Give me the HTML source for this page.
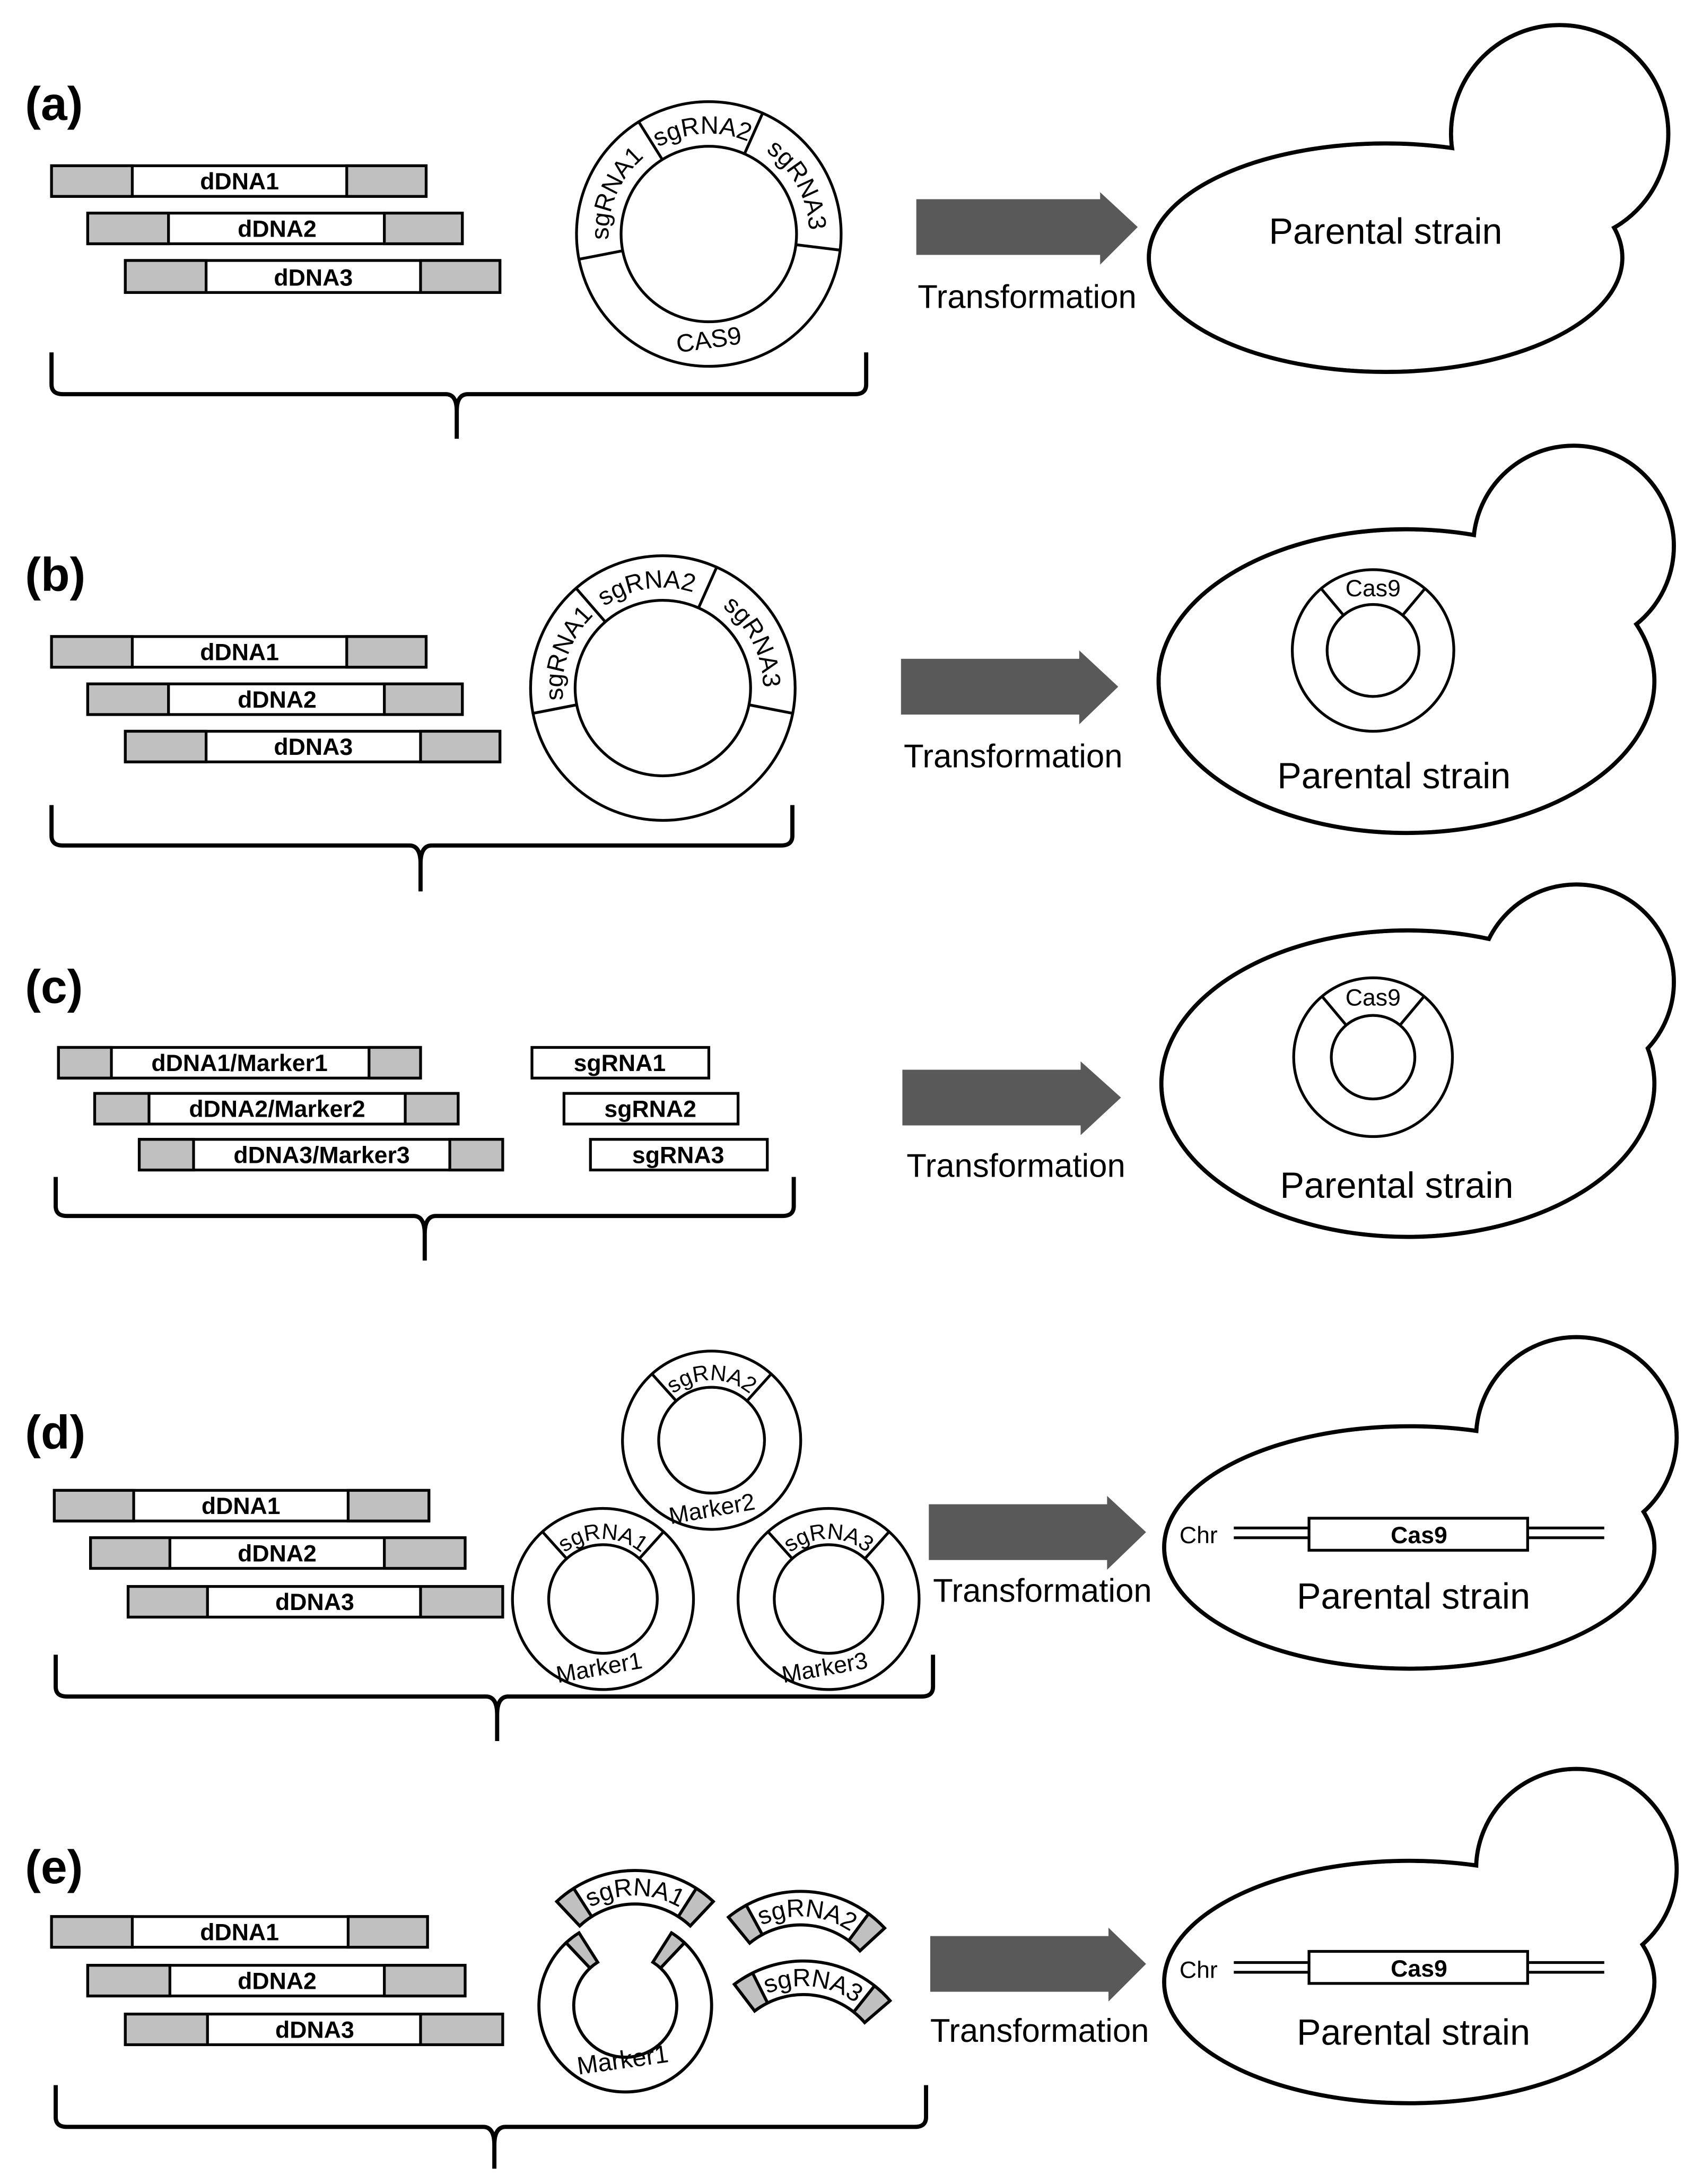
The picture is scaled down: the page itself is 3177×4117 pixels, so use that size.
<!DOCTYPE html>
<html><head><meta charset="utf-8"><style>
html,body{margin:0;padding:0;background:#fff;}
svg{display:block;}
text{font-family:"Liberation Sans",Arial,sans-serif;fill:#000;}
</style></head><body>
<svg width="3177" height="4117" viewBox="0 0 1210 1568" xmlns="http://www.w3.org/2000/svg">
<defs>
<path id="fragtp" d="M-64,0 A64 64 0 0 1 64,0"/>
<g id="frag">
<path d="M-56.2,-59.8 A82 82 0 0 1 56.2,-59.8 L39.7,-42.3 A58 58 0 0 0 -39.7,-42.3 Z" fill="#fff" stroke="#000" stroke-width="2.2"/>
<path d="M-56.2,-59.8 A82 82 0 0 1 -44,-69.2 L-31.1,-49 A58 58 0 0 0 -39.7,-42.3 Z" fill="#c0c0c0" stroke="#000" stroke-width="2.2"/>
<path d="M44,-69.2 A82 82 0 0 1 56.2,-59.8 L39.7,-42.3 A58 58 0 0 0 31.1,-49 Z" fill="#c0c0c0" stroke="#000" stroke-width="2.2"/>
</g>
<path id="pa" d="M509,240 A72 72 0 1 1 509,96 A72 72 0 1 1 509,240"/>
<path id="pb" d="M476,566 A72 72 0 1 1 476,422 A72 72 0 1 1 476,566"/>
<path id="pd2" d="M511,1077 A43 43 0 1 1 511,991 A43 43 0 1 1 511,1077"/>
<path id="pd1" d="M433,1191 A43 43 0 1 1 433,1105 A43 43 0 1 1 433,1191"/>
<path id="pd3" d="M595,1191 A43 43 0 1 1 595,1105 A43 43 0 1 1 595,1191"/>
</defs>

<g stroke="#000" stroke-width="2" fill="none">
<rect x="37" y="119" width="269" height="22" fill="#fff"/><rect x="37" y="119" width="58" height="22" fill="#c0c0c0"/><rect x="249" y="119" width="57" height="22" fill="#c0c0c0"/>
<rect x="63" y="153" width="269" height="22" fill="#fff"/><rect x="63" y="153" width="58" height="22" fill="#c0c0c0"/><rect x="276" y="153" width="56" height="22" fill="#c0c0c0"/>
<rect x="90" y="187" width="269" height="23" fill="#fff"/><rect x="90" y="187" width="58" height="23" fill="#c0c0c0"/><rect x="302" y="187" width="57" height="23" fill="#c0c0c0"/>
<rect x="37" y="457" width="269" height="22" fill="#fff"/><rect x="37" y="457" width="58" height="22" fill="#c0c0c0"/><rect x="249" y="457" width="57" height="22" fill="#c0c0c0"/>
<rect x="63" y="491" width="269" height="22" fill="#fff"/><rect x="63" y="491" width="58" height="22" fill="#c0c0c0"/><rect x="276" y="491" width="56" height="22" fill="#c0c0c0"/>
<rect x="90" y="525" width="269" height="22" fill="#fff"/><rect x="90" y="525" width="58" height="22" fill="#c0c0c0"/><rect x="302" y="525" width="57" height="22" fill="#c0c0c0"/>
<rect x="42" y="752" width="260" height="22" fill="#fff"/><rect x="42" y="752" width="38" height="22" fill="#c0c0c0"/><rect x="265" y="752" width="37" height="22" fill="#c0c0c0"/>
<rect x="68" y="785" width="261" height="22" fill="#fff"/><rect x="68" y="785" width="39" height="22" fill="#c0c0c0"/><rect x="291" y="785" width="38" height="22" fill="#c0c0c0"/>
<rect x="100" y="818" width="261" height="22" fill="#fff"/><rect x="100" y="818" width="39" height="22" fill="#c0c0c0"/><rect x="323" y="818" width="38" height="22" fill="#c0c0c0"/>
<rect x="382" y="752" width="127" height="22" fill="#fff"/>
<rect x="405" y="785" width="125" height="22" fill="#fff"/>
<rect x="424" y="818" width="127" height="22" fill="#fff"/>
<rect x="39" y="1070" width="269" height="22" fill="#fff"/><rect x="39" y="1070" width="57" height="22" fill="#c0c0c0"/><rect x="250" y="1070" width="58" height="22" fill="#c0c0c0"/>
<rect x="65" y="1104" width="269" height="22" fill="#fff"/><rect x="65" y="1104" width="57" height="22" fill="#c0c0c0"/><rect x="276" y="1104" width="58" height="22" fill="#c0c0c0"/>
<rect x="92" y="1139" width="269" height="22" fill="#fff"/><rect x="92" y="1139" width="57" height="22" fill="#c0c0c0"/><rect x="302" y="1139" width="59" height="22" fill="#c0c0c0"/>
<rect x="37" y="1376" width="270" height="22" fill="#fff"/><rect x="37" y="1376" width="58" height="22" fill="#c0c0c0"/><rect x="250" y="1376" width="57" height="22" fill="#c0c0c0"/>
<rect x="63" y="1411" width="271" height="22" fill="#fff"/><rect x="63" y="1411" width="59" height="22" fill="#c0c0c0"/><rect x="276" y="1411" width="58" height="22" fill="#c0c0c0"/>
<rect x="90" y="1446" width="271" height="22" fill="#fff"/><rect x="90" y="1446" width="59" height="22" fill="#c0c0c0"/><rect x="302" y="1446" width="59" height="22" fill="#c0c0c0"/>

<g stroke-width="3">
<path d="M37,253 L37,276 Q37,283 45,283 L320,283 Q328,283 328,295 L328,315 M328,295 Q328,283 336,283 L614,283 Q622,283 622,276 L622,253"/>
<path d="M37,578 L37,600 Q37,607 45,607 L294,607 Q302,607 302,620 L302,640 M302,620 Q302,607 310,607 L561,607 Q569,607 569,600 L569,578"/>
<path d="M40,845 L40,866 Q40,873 48,873 L297,873 Q305,873 305,886 L305,905 M305,886 Q305,873 313,873 L562,873 Q570,873 570,866 L570,845"/>
<path d="M40,1188 L40,1211 Q40,1218 48,1218 L349,1218 Q357,1218 357,1231 L357,1250 M357,1231 Q357,1218 365,1218 L662,1218 Q670,1218 670,1211 L670,1188"/>
<path d="M40,1497 L40,1520 Q40,1527 48,1527 L347,1527 Q355,1527 355,1540 L355,1557 M355,1540 Q355,1527 363,1527 L657,1527 Q665,1527 665,1520 L665,1497"/>
</g>

<circle cx="509" cy="168" r="95" fill="#fff"/><circle cx="509" cy="168" r="63"/>
<g transform="rotate(79 509 168)"><line x1="509" y1="231" x2="509" y2="263"/></g>
<g transform="rotate(148 509 168)"><line x1="509" y1="231" x2="509" y2="263"/></g>
<g transform="rotate(204 509 168)"><line x1="509" y1="231" x2="509" y2="263"/></g>
<g transform="rotate(277 509 168)"><line x1="509" y1="231" x2="509" y2="263"/></g>
<circle cx="476" cy="494" r="95" fill="#fff"/><circle cx="476" cy="494" r="63"/>
<g transform="rotate(79 476 494)"><line x1="476" y1="557" x2="476" y2="589"/></g>
<g transform="rotate(139 476 494)"><line x1="476" y1="557" x2="476" y2="589"/></g>
<g transform="rotate(204 476 494)"><line x1="476" y1="557" x2="476" y2="589"/></g>
<g transform="rotate(281 476 494)"><line x1="476" y1="557" x2="476" y2="589"/></g>
<circle cx="511" cy="1034" r="64" fill="#fff"/><circle cx="511" cy="1034" r="38"/>
<g transform="rotate(138 511 1034)"><line x1="511" y1="1072" x2="511" y2="1098"/></g>
<g transform="rotate(222 511 1034)"><line x1="511" y1="1072" x2="511" y2="1098"/></g>
<circle cx="433" cy="1148" r="65" fill="#fff"/><circle cx="433" cy="1148" r="39"/>
<g transform="rotate(138 433 1148)"><line x1="433" y1="1187" x2="433" y2="1213"/></g>
<g transform="rotate(222 433 1148)"><line x1="433" y1="1187" x2="433" y2="1213"/></g>
<circle cx="595" cy="1148" r="65" fill="#fff"/><circle cx="595" cy="1148" r="39"/>
<g transform="rotate(138 595 1148)"><line x1="595" y1="1187" x2="595" y2="1213"/></g>
<g transform="rotate(222 595 1148)"><line x1="595" y1="1187" x2="595" y2="1213"/></g>
</g>

<path d="M491.5,1394.8 A62 62 0 1 1 406.5,1394.8 L423.7,1413 A37 37 0 1 0 474.3,1413 Z" fill="#fff" stroke="#000" stroke-width="2.2"/>
<path d="M406.5,1394.8 A62 62 0 0 1 415.8,1387.7 L429.2,1408.8 A37 37 0 0 0 423.7,1413 Z" fill="#c0c0c0" stroke="#000" stroke-width="2.2"/>
<path d="M482.2,1387.7 A62 62 0 0 1 491.5,1394.8 L474.3,1413 A37 37 0 0 0 468.8,1408.8 Z" fill="#c0c0c0" stroke="#000" stroke-width="2.2"/>
<g transform="translate(456,1425)"><use href="#frag"/><text font-size="18"><textPath href="#fragtp" startOffset="50%" text-anchor="middle">sgRNA1</textPath></text></g>
<g transform="translate(575,1440) rotate(4)"><use href="#frag"/><text font-size="18"><textPath href="#fragtp" startOffset="50%" text-anchor="middle">sgRNA2</textPath></text></g>
<g transform="translate(577,1490) rotate(6)"><use href="#frag"/><text font-size="18"><textPath href="#fragtp" startOffset="50%" text-anchor="middle">sgRNA3</textPath></text></g>
<text x="447" y="1485" font-size="18" text-anchor="middle" transform="rotate(-8 447 1478)">Marker1</text>

<g fill="#595959">
<path d="M658,143 L790,143 L790,138 L817,163 L790,190 L790,183 L658,183 Z"/>
<path d="M647,473 L775,473 L775,467 L803,493 L775,520 L775,513 L647,513 Z"/>
<path d="M648,768 L776,768 L776,762 L805,788 L776,815 L776,808 L648,808 Z"/>
<path d="M667,1080 L795,1080 L795,1074 L823,1100 L795,1127 L795,1120 L667,1120 Z"/>
<path d="M668,1390 L796,1390 L796,1384 L823,1410 L796,1437 L796,1430 L668,1430 Z"/>
</g>

<g stroke="#000" stroke-width="3" fill="#fff">
<circle cx="1120" cy="96" r="78"/><ellipse cx="995" cy="185" rx="170" ry="82"/>
<circle cx="1120" cy="96" r="76.5" stroke="none"/><ellipse cx="995" cy="185" rx="168.5" ry="80.5" stroke="none"/>
<circle cx="1130" cy="392" r="72"/><ellipse cx="1010" cy="489" rx="178" ry="109"/>
<circle cx="1130" cy="392" r="70.5" stroke="none"/><ellipse cx="1010" cy="489" rx="176.5" ry="107.5" stroke="none"/>
<circle cx="1132" cy="705" r="70"/><ellipse cx="1011" cy="778" rx="177" ry="110"/>
<circle cx="1132" cy="705" r="68.5" stroke="none"/><ellipse cx="1011" cy="778" rx="175.5" ry="108.5" stroke="none"/>
<circle cx="1132" cy="1032" r="72"/><ellipse cx="1012" cy="1111" rx="176" ry="87"/>
<circle cx="1132" cy="1032" r="70.5" stroke="none"/><ellipse cx="1012" cy="1111" rx="174.5" ry="85.5" stroke="none"/>
<circle cx="1132" cy="1342" r="72"/><ellipse cx="1012" cy="1423" rx="176" ry="87"/>
<circle cx="1132" cy="1342" r="70.5" stroke="none"/><ellipse cx="1012" cy="1423" rx="174.5" ry="85.5" stroke="none"/>
</g>

<g stroke="#000" stroke-width="2" fill="none">
<circle cx="986" cy="467" r="58" fill="#fff"/><circle cx="986" cy="467" r="33"/>
<g transform="rotate(140 986 467)"><line x1="986" y1="500" x2="986" y2="525"/></g>
<g transform="rotate(220 986 467)"><line x1="986" y1="500" x2="986" y2="525"/></g>
<circle cx="986" cy="759" r="57" fill="#fff"/><circle cx="986" cy="759" r="30"/>
<g transform="rotate(140 986 759)"><line x1="986" y1="789" x2="986" y2="816"/></g>
<g transform="rotate(220 986 759)"><line x1="986" y1="789" x2="986" y2="816"/></g>
<path d="M886,1097 L940,1097 M886,1104 L940,1104 M1097,1097 L1152,1097 M1097,1104 L1152,1104"/>
<rect x="940" y="1090" width="157" height="23" fill="#fff"/>
<path d="M886,1409 L940,1409 M886,1416 L940,1416 M1097,1409 L1152,1409 M1097,1416 L1152,1416"/>
<rect x="940" y="1401" width="157" height="23" fill="#fff"/>
</g>

<g font-size="34" font-weight="bold">
<text x="18" y="86">(a)</text><text x="18" y="424">(b)</text><text x="18" y="720">(c)</text><text x="18" y="1040">(d)</text><text x="18" y="1352">(e)</text>
</g>
<g font-size="17" font-weight="bold" text-anchor="middle">
<text x="172" y="136">dDNA1</text><text x="199" y="170">dDNA2</text><text x="225" y="205">dDNA3</text>
<text x="172" y="474">dDNA1</text><text x="199" y="508">dDNA2</text><text x="225" y="542">dDNA3</text>
<text x="172" y="769">dDNA1/Marker1</text><text x="199" y="802">dDNA2/Marker2</text><text x="231" y="835">dDNA3/Marker3</text>
<text x="445" y="769">sgRNA1</text><text x="467" y="802">sgRNA2</text><text x="487" y="835">sgRNA3</text>
<text x="173" y="1087">dDNA1</text><text x="199" y="1121">dDNA2</text><text x="226" y="1156">dDNA3</text>
<text x="172" y="1393">dDNA1</text><text x="199" y="1428">dDNA2</text><text x="226" y="1463">dDNA3</text>
<text x="1019" y="1108">Cas9</text><text x="1019" y="1419">Cas9</text>
</g>
<g font-size="18">
<text><textPath href="#pa" startOffset="31.5%" text-anchor="middle">sgRNA1</textPath></text>
<text><textPath href="#pa" startOffset="49%" text-anchor="middle">sgRNA2</textPath></text>
<text><textPath href="#pa" startOffset="67%" text-anchor="middle">sgRNA3</textPath></text>
<text x="509" y="250" text-anchor="middle" transform="rotate(-8 509 244)">CAS9</text>
<text><textPath href="#pb" startOffset="30.5%" text-anchor="middle">sgRNA1</textPath></text>
<text><textPath href="#pb" startOffset="47.5%" text-anchor="middle">sgRNA2</textPath></text>
<text><textPath href="#pb" startOffset="67.5%" text-anchor="middle">sgRNA3</textPath></text>
</g>
<g font-size="16">
<text><textPath href="#pd2" startOffset="50%" text-anchor="middle">sgRNA2</textPath></text>
<text><textPath href="#pd1" startOffset="50%" text-anchor="middle">sgRNA1</textPath></text>
<text><textPath href="#pd3" startOffset="50%" text-anchor="middle">sgRNA3</textPath></text>
<text x="511" y="1089" text-anchor="middle" font-size="17" transform="rotate(-10 511 1082)">Marker2</text>
<text x="430" y="1203" text-anchor="middle" font-size="17" transform="rotate(-10 430 1196)">Marker1</text>
<text x="592" y="1203" text-anchor="middle" font-size="17" transform="rotate(-10 592 1196)">Marker3</text>
</g>
<g font-size="17">
<text x="986" y="428" text-anchor="middle">Cas9</text>
<text x="986" y="722" text-anchor="middle">Cas9</text>
<text x="847" y="1108">Chr</text><text x="847" y="1420">Chr</text>
</g>
<g font-size="23.5">
<text x="659" y="221">Transformation</text>
<text x="649" y="551">Transformation</text>
<text x="651" y="845">Transformation</text>
<text x="670" y="1150">Transformation</text>
<text x="668" y="1466">Transformation</text>
</g>
<g font-size="26" text-anchor="middle">
<text x="995" y="175">Parental strain</text>
<text x="1001" y="566">Parental strain</text>
<text x="1003" y="860">Parental strain</text>
<text x="1015" y="1155">Parental strain</text>
<text x="1015" y="1468">Parental strain</text>
</g>
</svg>
</body></html>
